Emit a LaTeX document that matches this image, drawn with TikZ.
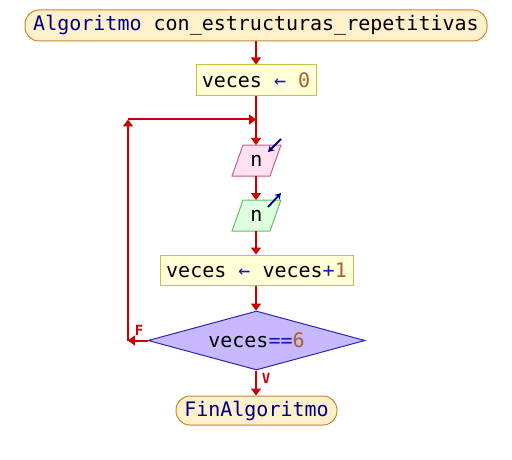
\documentclass[tikz,border=0pt]{standalone}
\usepackage{fontspec}
\setmonofont{DejaVu Sans Mono}
\usetikzlibrary{arrows.meta,shapes.geometric,calc}
\definecolor{flow}{HTML}{CC0000}
\definecolor{kw}{HTML}{000080}
\definecolor{num}{HTML}{A8602C}
\definecolor{op}{HTML}{1818B0}
\definecolor{termline}{HTML}{C8882A}
\definecolor{termfill}{HTML}{FFF0CC}
\definecolor{assignline}{HTML}{C8C040}
\definecolor{assignfill}{HTML}{FFFFD8}
\definecolor{inline}{HTML}{C06088}
\definecolor{infill}{HTML}{FFE0F0}
\definecolor{outline}{HTML}{60C060}
\definecolor{outfill}{HTML}{E0FFE0}
\definecolor{condline}{HTML}{2828B0}
\definecolor{condfill}{HTML}{C8B8FF}
\begin{document}
\begin{tikzpicture}[x=1pt,y=-1pt,
  every node/.style={font=\ttfamily\fontsize{20}{22}\selectfont, inner sep=0pt},
  termbox/.style={draw=termline, fill=termfill, rounded corners=14pt, line width=1pt},
  assignbox/.style={draw=assignline, fill=assignfill, line width=1pt},
  inbox/.style={draw=inline, fill=infill, line width=1pt},
  outbox/.style={draw=outline, fill=outfill, line width=1pt},
  condbox/.style={diamond, aspect=3.68, draw=condline, fill=condfill, line width=1pt},
  flowline/.style={draw=flow, line width=2pt, -{Triangle[length=7pt,width=10pt]}},
  iomark/.style={draw=kw, line width=1.8pt, -{Stealth[length=6pt,width=7pt]}},
  branch/.style={text=flow, font=\ttfamily\bfseries\fontsize{14}{15}\selectfont}]
\useasboundingbox (0,0) rectangle (512,460);

\node[termbox, minimum width=462pt, minimum height=31pt] (title) at (256,25.5)
  {\textcolor{kw}{Algoritmo} con\_estructuras\_repetitivas};
\node[assignbox, minimum width=120pt, minimum height=31pt] (a0) at (256,80.5)
  {veces \textcolor{op}{←} \textcolor{num}{0}};

% input parallelogram
\path[inbox] (243,145) -- (281,145) -- (270,176) -- (232,176) -- cycle;
\node (in) at (256.5,160.5) {n};
\coordinate (inmA) at (281,139);
\coordinate (inmB) at (268,152);
\draw[iomark] (inmA) -- (inmB);

% output parallelogram
\path[outbox] (243,200) -- (281,200) -- (270,231) -- (232,231) -- cycle;
\node (out) at (256.5,215.5) {n};
\coordinate (outmA) at (268,207);
\coordinate (outmB) at (281,193);
\draw[iomark] (outmA) -- (outmB);

\node[assignbox, minimum width=193pt, minimum height=30pt] (a1) at (256.5,270)
  {veces \textcolor{op}{←} veces\textcolor{op}{+}\textcolor{num}{1}};
\node[condbox, minimum width=217pt, minimum height=59pt] (cond) at (256.5,340.5)
  {veces\textcolor{op}{==}\textcolor{num}{6}};
\node[termbox, minimum width=161pt, minimum height=29pt] (fin) at (256.5,410.5)
  {\textcolor{kw}{FinAlgoritmo}};

\coordinate (inTop) at (256,145);
\coordinate (loopL) at (128,340.5);
\coordinate (loopT) at (128,119.5);
\coordinate (join) at (256,119.5);

\draw[flowline] (title.south -| 256,0) -- (a0.north -| 256,0);
\draw[flowline] (a0.south -| 256,0) -- (inTop);
\draw[flowline] (256,176) -- (256,200);
\draw[flowline] (256,231) -- (a1.north -| 256,0);
\draw[flowline] (a1.south -| 256,0) -- (cond.north -| 256,0);
\draw[flowline] (cond.south -| 256,0) -- (fin.north -| 256,0);
\draw[flowline] (cond.west) -- (loopL);
\draw[flowline] (loopL) -- (loopT);
\draw[flowline] (loopT) -- (join);

\node[branch] (lf) at (139,330) {F};
\node[branch] (lv) at (266,378) {V};
\end{tikzpicture}
\end{document}
